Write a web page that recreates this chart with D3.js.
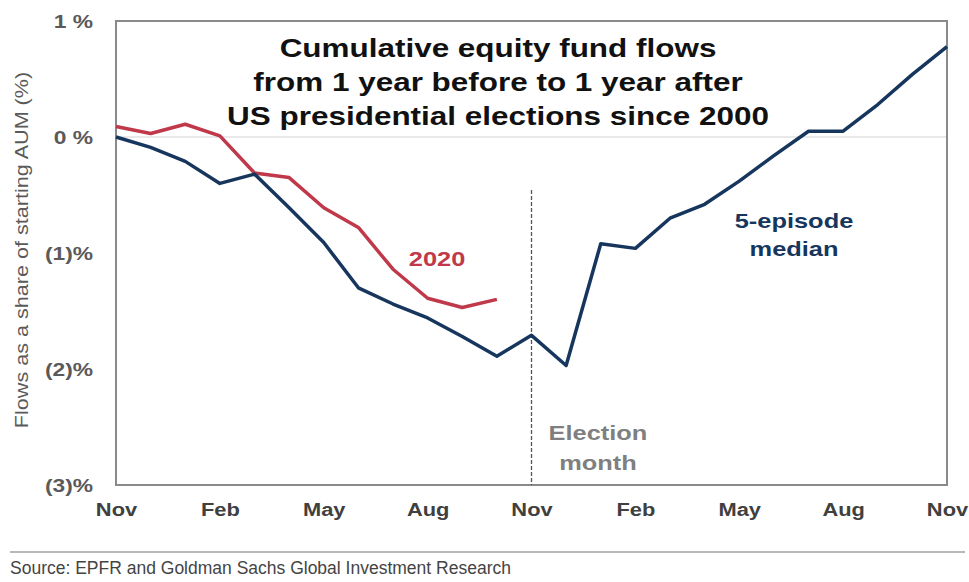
<!DOCTYPE html>
<meta charset="utf-8">
<head>
	<title>Cumulative equity fund flows</title>
</head>

<style>
body{
	margin: 0;
	background: #fff;
}
svg{
	font-family: Arial, "Liberation Sans", sans-serif;
}
.axis path, .axis line{
	display: none;
}
</style>

<body>
<svg id="chart" width="969" height="582"></svg>

<script src="https://cdnjs.cloudflare.com/ajax/libs/d3/7.8.5/d3.min.js"></script>
<script>

// month index 0..24 = Nov (year before) .. Nov (year after)
var xTickMonths = [0, 3, 6, 9, 12, 15, 18, 21, 24];
var xTickLabels = ["Nov", "Feb", "May", "Aug", "Nov", "Feb", "May", "Aug", "Nov"];

var yTicks = [-3, -2, -1, 0, 1];
var yTickLabels = ["(3)%", "(2)%", "(1)%", "0 %", "1 %"];

// 5-episode median, % of starting AUM
var medianValues = [0.00, -0.09, -0.21, -0.40, -0.32, -0.61, -0.91, -1.30, -1.44, -1.56, -1.72, -1.89,
	-1.71, -1.97, -0.92, -0.96, -0.70, -0.58, -0.38, -0.16, 0.05, 0.05, 0.28, 0.54, 0.78];

// 2020
var values2020 = [0.09, 0.03, 0.11, 0.01, -0.31, -0.35, -0.61, -0.78, -1.14, -1.39, -1.47, -1.40];

var electionMonth = 12;

var svg = d3.select('#chart');

// plot box (note: "top" is a reserved window prop, so use prefixed names)
var plotL = 116, plotR = 947, plotT = 21, plotB = 485;

// the original's type is a bit wider than Arial, stretch it horizontally
var K = 1.21;

var x = d3.scaleLinear().domain([0, 24]).range([plotL, plotR]);
var y = d3.scaleLinear().domain([-3, 1]).range([plotB, plotT]);

// text placed at (tx, ty) and widened by k
function wideText(tx, ty, str, size, weight, fill, k){
	return svg.append('text')
		.attr('transform', 'translate(' + tx + ',' + ty + ') scale(' + k + ',1)')
		.attr('text-anchor', 'middle')
		.attr('font-size', size)
		.attr('font-weight', weight)
		.attr('fill', fill)
		.text(str);
}

// zero line
svg.append('line')
	.attr('x1', plotL).attr('x2', plotR)
	.attr('y1', y(0)).attr('y2', y(0))
	.attr('stroke', '#e2e2e2')
	.attr('stroke-width', 1.5);

// frame
svg.append('rect')
	.attr('x', plotL).attr('y', plotT)
	.attr('width', plotR - plotL).attr('height', plotB - plotT)
	.attr('fill', 'none')
	.attr('stroke', '#8a8a8a')
	.attr('stroke-width', 2);

// title
["Cumulative equity fund flows", "from 1 year before to 1 year after", "US presidential elections since 2000"]
	.forEach(function(t, i){
		wideText(498, 57 + i * 34, t, 26, 'bold', '#111', K);
	});

// election month marker
svg.append('line')
	.attr('x1', x(electionMonth)).attr('x2', x(electionMonth))
	.attr('y1', 190).attr('y2', plotB)
	.attr('stroke', '#555')
	.attr('stroke-width', 1.3)
	.attr('stroke-dasharray', '4,2');

wideText(598, 440, 'Election', 21, 'bold', '#7f7f7f', K);
wideText(598, 470, 'month', 21, 'bold', '#7f7f7f', K);

// lines
var line = d3.line()
	.x(function(d, i){ return x(i); })
	.y(function(d){ return y(d); });

svg.append('path')
	.attr('d', line(values2020))
	.attr('fill', 'none')
	.attr('stroke', '#c0394a')
	.attr('stroke-width', 3.5)
	.attr('stroke-linejoin', 'round');

svg.append('path')
	.attr('d', line(medianValues))
	.attr('fill', 'none')
	.attr('stroke', '#17365d')
	.attr('stroke-width', 3.5)
	.attr('stroke-linejoin', 'round');

// series labels
wideText(437, 266, '2020', 21, 'bold', '#c0394a', K);
wideText(794, 228, '5-episode', 21, 'bold', '#17365d', K);
wideText(794, 256, 'median', 21, 'bold', '#17365d', K);

// axes
var yAxis = d3.axisLeft(y)
	.tickValues(yTicks)
	.tickSize(0)
	.tickPadding(0)
	.tickFormat(function(d, i){ return yTickLabels[i]; });

svg.append('g')
	.attr('class', 'axis')
	.attr('transform', 'translate(93,0)')
	.call(yAxis)
	.selectAll('text')
	.attr('transform', 'scale(1.2,1)')
	.attr('font-family', 'Arial, "Liberation Sans", sans-serif')
	.attr('font-size', 19)
	.attr('font-weight', 'bold')
	.attr('fill', '#5a5a5a');

var xAxis = d3.axisBottom(x)
	.tickValues(xTickMonths)
	.tickSize(0)
	.tickPadding(0)
	.tickFormat(function(d, i){ return xTickLabels[i]; });

svg.append('g')
	.attr('class', 'axis')
	.attr('transform', 'translate(0,' + (plotB + 18) + ')')
	.call(xAxis)
	.selectAll('text')
	.attr('transform', 'scale(1.15,1)')
	.attr('font-family', 'Arial, "Liberation Sans", sans-serif')
	.attr('font-size', 19)
	.attr('font-weight', 'bold')
	.attr('fill', '#404040');

// y axis title
svg.append('text')
	.attr('transform', 'translate(28,250) rotate(-90) scale(1.2,1)')
	.attr('text-anchor', 'middle')
	.attr('font-size', 18)
	.attr('fill', '#5a5a5a')
	.text('Flows as a share of starting AUM (%)');

// source
svg.append('line')
	.attr('x1', 10).attr('x2', 965)
	.attr('y1', 552).attr('y2', 552)
	.attr('stroke', '#a0a0a0')
	.attr('stroke-width', 1.5);

svg.append('text')
	.attr('x', 10).attr('y', 574)
	.attr('font-size', 17.5)
	.attr('fill', '#444')
	.text('Source: EPFR and Goldman Sachs Global Investment Research');

</script>

</body>
</html>
